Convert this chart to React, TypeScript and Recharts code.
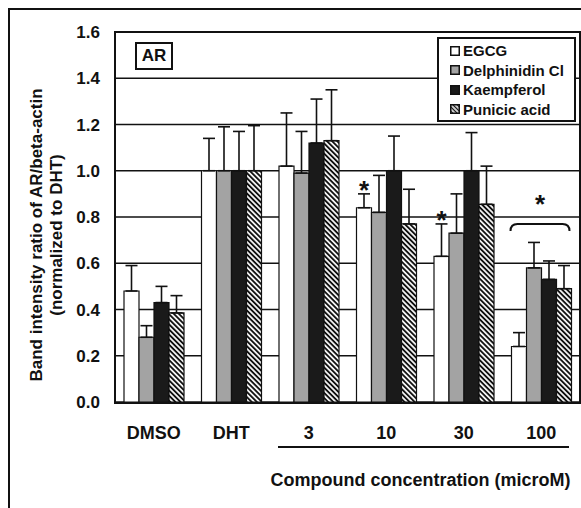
import React from "react";
import {
  BarChart,
  Bar,
  XAxis,
  YAxis,
  CartesianGrid,
  ErrorBar,
  LabelList,
  Legend,
} from "recharts";

const categories = ["DMSO", "DHT", "3", "10", "30", "100"];

const egcg = [0.48, 1.0, 1.02, 0.84, 0.63, 0.24];
const egcgErr = [0.11, 0.14, 0.23, 0.06, 0.14, 0.06];
const delph = [0.28, 1.0, 0.99, 0.82, 0.73, 0.58];
const delphErr = [0.05, 0.19, 0.18, 0.16, 0.17, 0.11];
const kaemp = [0.43, 1.0, 1.12, 1.0, 1.0, 0.53];
const kaempErr = [0.07, 0.17, 0.19, 0.15, 0.165, 0.08];
const punicic = [0.385, 1.0, 1.13, 0.77, 0.855, 0.49];
const punicicErr = [0.075, 0.195, 0.22, 0.15, 0.165, 0.1];

// significance marks: single star over EGCG, bracket star over the whole group
const egcgStar = ["", "", "", "*", "*", ""];
const groupStar = ["", "", "", "", "", "*"];
const bracketLevel = 0.77;

const yTicks = [0, 0.2, 0.4, 0.6, 0.8, 1.0, 1.2, 1.4, 1.6];

const FONT = '"Liberation Sans", Arial, sans-serif';
const INK = "#111";

const data = categories.map((name, i) => ({
  name,
  egcg: egcg[i],
  egcgErr: [0, egcgErr[i]],
  delph: delph[i],
  delphErr: [0, delphErr[i]],
  kaemp: kaemp[i],
  kaempErr: [0, kaempErr[i]],
  punicic: punicic[i],
  punicicErr: [0, punicicErr[i]],
}));

const series = [
  { key: "egcg", name: "EGCG", fill: "#ffffff" },
  { key: "delph", name: "Delphinidin Cl", fill: "#a3a3a3" },
  { key: "kaemp", name: "Kaempferol", fill: "#1a1a1a" },
  { key: "punicic", name: "Punicic acid", fill: "url(#hatch)" },
];

function EgcgMarks(props: any) {
  const { x, y, width, height, value, index } = props;
  const perUnit = height / value;
  const base = y + height;
  if (egcgStar[index]) {
    const errTop = base - (value + egcgErr[index]) * perUnit;
    return (
      <text x={x + width / 2} y={errTop + 5} textAnchor="middle" fontSize={26} fontWeight="bold" fontFamily={FONT} fill={INK}>
        {egcgStar[index]}
      </text>
    );
  }
  if (groupStar[index]) {
    const yb = base - bracketLevel * perUnit;
    const x0 = x - 1;
    const x1 = x + width * 4 - 2;
    return (
      <g>
        <path
          d={`M${x0},${yb + 7} Q${x0},${yb} ${x0 + 7},${yb} L${x1 - 7},${yb} Q${x1},${yb} ${x1},${yb + 7}`}
          fill="none"
          stroke={INK}
          strokeWidth={2}
        />
        <text x={(x0 + x1) / 2} y={yb - 11} textAnchor="middle" fontSize={26} fontWeight="bold" fontFamily={FONT} fill={INK}>
          {groupStar[index]}
        </text>
      </g>
    );
  }
  return null;
}

function YLabel() {
  const cy = 235;
  const style = { fontSize: 17, fontWeight: "bold" as const, fontFamily: FONT, fill: INK };
  return (
    <g>
      <text x={36} y={cy} transform={`rotate(-90 36 ${cy})`} textAnchor="middle" dominantBaseline="central" {...style}>
        Band intensity ratio of AR/beta-actin
      </text>
      <text x={56} y={cy} transform={`rotate(-90 56 ${cy})`} textAnchor="middle" dominantBaseline="central" {...style}>
        (normalized to DHT)
      </text>
    </g>
  );
}

function XLabel(props: any) {
  const { viewBox } = props;
  const band = viewBox.width / categories.length;
  const lx0 = viewBox.x + band * 2 + 8;
  const lx1 = viewBox.x + viewBox.width - 11;
  const ly = viewBox.y + 45;
  return (
    <g>
      <line x1={lx0} x2={lx1} y1={ly} y2={ly} stroke={INK} strokeWidth={2} />
      <text x={(lx0 + lx1) / 2 - 3} y={ly + 33} textAnchor="middle" dominantBaseline="central" fontSize={18} fontWeight="bold" fontFamily={FONT} fill={INK}>
        Compound concentration (microM)
      </text>
    </g>
  );
}

function LegendIcon({ fill }: { fill: string }) {
  return (
    <svg width={10} height={10} style={{ marginRight: 3, flex: "none" }}>
      <defs>
        <pattern id="hatchIcon" patternUnits="userSpaceOnUse" width={3} height={10} patternTransform="rotate(-45)">
          <rect width={3} height={10} fill="#fff" />
          <line x1={1.5} y1={0} x2={1.5} y2={10} stroke={INK} strokeWidth={1.4} />
        </pattern>
      </defs>
      <rect x={0.75} y={0.75} width={8.5} height={8.5} fill={fill === "url(#hatch)" ? "url(#hatchIcon)" : fill} stroke={INK} strokeWidth={1.5} />
    </svg>
  );
}

function LegendBox() {
  return (
    <div
      style={{
        border: `2px solid ${INK}`,
        boxSizing: "border-box",
        width: 139,
        padding: "2px 4px 1px 11px",
        background: "#fff",
        fontFamily: FONT,
        fontWeight: "bold",
        fontSize: 15,
        lineHeight: "19.5px",
        color: INK,
      }}
    >
      {series.map((s) => (
        <div key={s.key} style={{ display: "flex", alignItems: "center", whiteSpace: "nowrap" }}>
          <LegendIcon fill={s.fill} />
          {s.name}
        </div>
      ))}
    </div>
  );
}

export default function App() {
  return (
    <div style={{ position: "relative", width: 581, height: 508, background: "#fff", overflow: "hidden" }}>
      <style>{`html,body{margin:0;padding:0;overflow:hidden;background:#fff}`}</style>
      <BarChart
        width={581}
        height={508}
        data={data}
        margin={{ top: 32, right: 1, bottom: 76, left: 0 }}
        barSize={15}
        barGap={0}
      >
        <defs>
          <pattern id="hatch" patternUnits="userSpaceOnUse" width={3.6} height={10} patternTransform="rotate(-45)">
            <rect width={3.6} height={10} fill="#fff" />
            <line x1={1.8} y1={0} x2={1.8} y2={10} stroke={INK} strokeWidth={1.9} />
          </pattern>
        </defs>
        <CartesianGrid vertical={false} stroke={INK} strokeWidth={1.5} />
        <XAxis
          dataKey="name"
          axisLine={false}
          tickLine={false}
          tickSize={0}
          tickMargin={24}
          height={30}
          interval={0}
          tick={{ fontSize: 18, fontWeight: "bold", fill: INK, fontFamily: FONT }}
          label={{ content: XLabel }}
        />
        <YAxis
          width={115}
          domain={[0, 1.6]}
          ticks={yTicks}
          axisLine={false}
          tickLine={false}
          tickSize={0}
          tickMargin={15}
          tickFormatter={(v: number) => v.toFixed(1)}
          tick={{ fontSize: 17, fontWeight: "bold", fill: INK, fontFamily: FONT }}
          label={{ content: YLabel }}
        />
        <Legend
          layout="vertical"
          align="center"
          verticalAlign="middle"
          content={() => <LegendBox />}
          wrapperStyle={{ position: "absolute", left: 437, top: 37, width: 139, height: "auto" }}
        />
        {series.map((s) => (
          <Bar key={s.key} dataKey={s.key} name={s.name} fill={s.fill} stroke={INK} strokeWidth={1.2} isAnimationActive={false}>
            <ErrorBar dataKey={`${s.key}Err`} direction="y" width={6} stroke={INK} strokeWidth={1.6} />
            {s.key === "egcg" && <LabelList dataKey="egcg" content={EgcgMarks} />}
          </Bar>
        ))}
      </BarChart>
      {/* plot frame */}
      <div
        style={{
          position: "absolute",
          left: 114,
          top: 31,
          width: 467,
          height: 373,
          border: `2px solid ${INK}`,
          boxSizing: "border-box",
          pointerEvents: "none",
        }}
      />
      {/* outer panel frame */}
      <div
        style={{
          position: "absolute",
          left: 8,
          top: 8,
          right: 0,
          bottom: 0,
          borderTop: `2px solid ${INK}`,
          borderLeft: `2px solid ${INK}`,
          pointerEvents: "none",
        }}
      />
      {/* panel tag */}
      <div
        style={{
          position: "absolute",
          left: 135,
          top: 42,
          width: 38,
          height: 28,
          border: `2px solid ${INK}`,
          boxSizing: "border-box",
          background: "#fff",
          fontFamily: FONT,
          fontWeight: "bold",
          fontSize: 17,
          lineHeight: "24px",
          textAlign: "center",
          color: INK,
        }}
      >
        AR
      </div>
    </div>
  );
}
